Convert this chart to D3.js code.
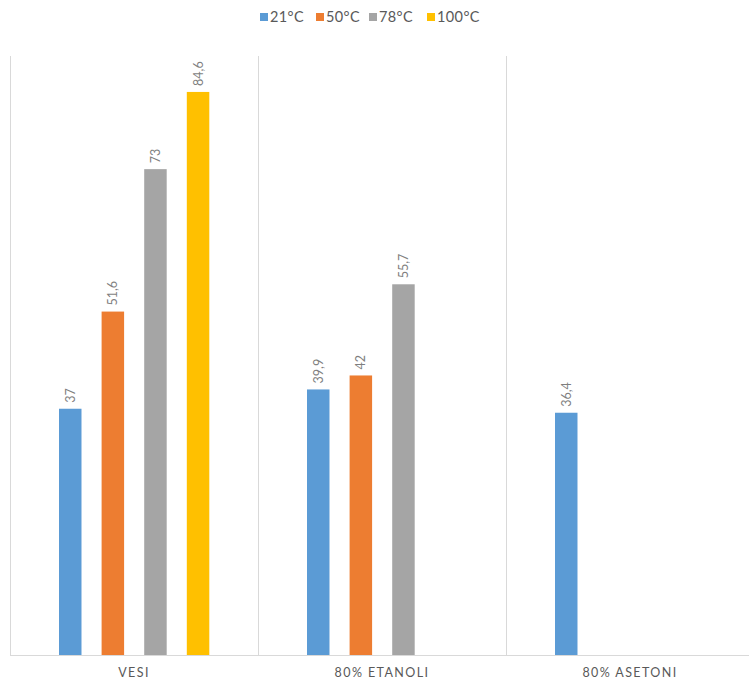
<!DOCTYPE html>
<html>
<head>
<meta charset="utf-8">
<script src="https://cdn.jsdelivr.net/npm/d3@7"></script>
<style>
body { margin: 0; background: #fff; }
svg { display: block; font-family: Lato, "Open Sans", sans-serif; }
</style>
</head>
<body>
<svg width="749" height="682"></svg>
<script>
var categories = ["VESI", "80% ETANOLI", "80% ASETONI"];
var series = ["21°C", "50°C", "78°C", "100°C"];
var colors = ["#5B9BD5", "#ED7D31", "#A5A5A5", "#FFC000"];
// values per series, one per category (null = no bar)
var v21 = [37, 39.9, 36.4];
var v50 = [51.6, 42, null];
var v78 = [73, 55.7, null];
var v100 = [84.6, null, null];
var yMax = 90;

var svg = d3.select("svg"),
	margin = {top: 56, left: 10, bottom: 27},
	height = 682 - margin.top - margin.bottom,
	width = 744;

var values = [v21, v50, v78, v100];
var data = [];
categories.forEach(function(c, i) {
	series.forEach(function(s, j) {
		if (values[j][i] != null) data.push({cat: c, s: s, idx: j, value: values[j][i]});
	});
});

var x = d3.scaleBand().domain(categories).range([0, width]);
var x1 = d3.scaleBand().domain(series).range([49, 199.3]).paddingInner(0.472).paddingOuter(0);
var y = d3.scaleLinear().domain([0, yMax]).range([height, 0]);

var g = svg.append("g")
	.attr("transform", "translate(" + margin.left + "," + margin.top + ")");

// category separators
g.selectAll(".sep")
	.data(categories)
	.enter().append("line")
	.attr("x1", function(d) { return x(d) + 0.5; })
	.attr("x2", function(d) { return x(d) + 0.5; })
	.attr("y1", 0)
	.attr("y2", height)
	.attr("stroke", "#D9D9D9");

g.append("line")
	.attr("x1", 0).attr("x2", width)
	.attr("y1", height + 0.5).attr("y2", height + 0.5)
	.attr("stroke", "#D9D9D9");

g.selectAll(".bar")
	.data(data)
	.enter().append("rect")
	.attr("class", "bar")
	.attr("x", function(d) { return x(d.cat) + x1(d.s); })
	.attr("y", function(d) { return y(d.value); })
	.attr("width", x1.bandwidth())
	.attr("height", function(d) { return height - y(d.value); })
	.attr("fill", function(d) { return colors[d.idx]; });

g.selectAll(".lbl")
	.data(data)
	.enter().append("text")
	.attr("transform", function(d) {
		return "translate(" + (x(d.cat) + x1(d.s) + x1.bandwidth() / 2 + 4.5) + "," + (y(d.value) - 6) + ") rotate(-90)";
	})
	.attr("font-size", 12.5)
	.attr("fill", "#7F7F7F")
	.text(function(d) { return String(d.value).replace(".", ","); });

// category labels
g.selectAll(".cat")
	.data(categories)
	.enter().append("text")
	.attr("x", function(d) { return x(d) + x.bandwidth() / 2; })
	.attr("y", height + 22)
	.attr("text-anchor", "middle")
	.attr("font-size", 12.5)
	.attr("letter-spacing", 1.4)
	.attr("fill", "#595959")
	.text(function(d) { return d; });

// legend
var legX = [260, 316, 369, 427];
var leg = svg.selectAll(".leg")
	.data(series)
	.enter().append("g")
	.attr("transform", function(d, i) { return "translate(" + legX[i] + ",13)"; });
leg.append("rect")
	.attr("width", 8).attr("height", 8)
	.attr("fill", function(d, i) { return colors[i]; });
leg.append("text")
	.attr("x", 10).attr("y", 9)
	.attr("font-size", 14.5)
	.attr("letter-spacing", 0.4)
	.attr("fill", "#595959")
	.text(function(d) { return d; });
</script>
</body>
</html>
